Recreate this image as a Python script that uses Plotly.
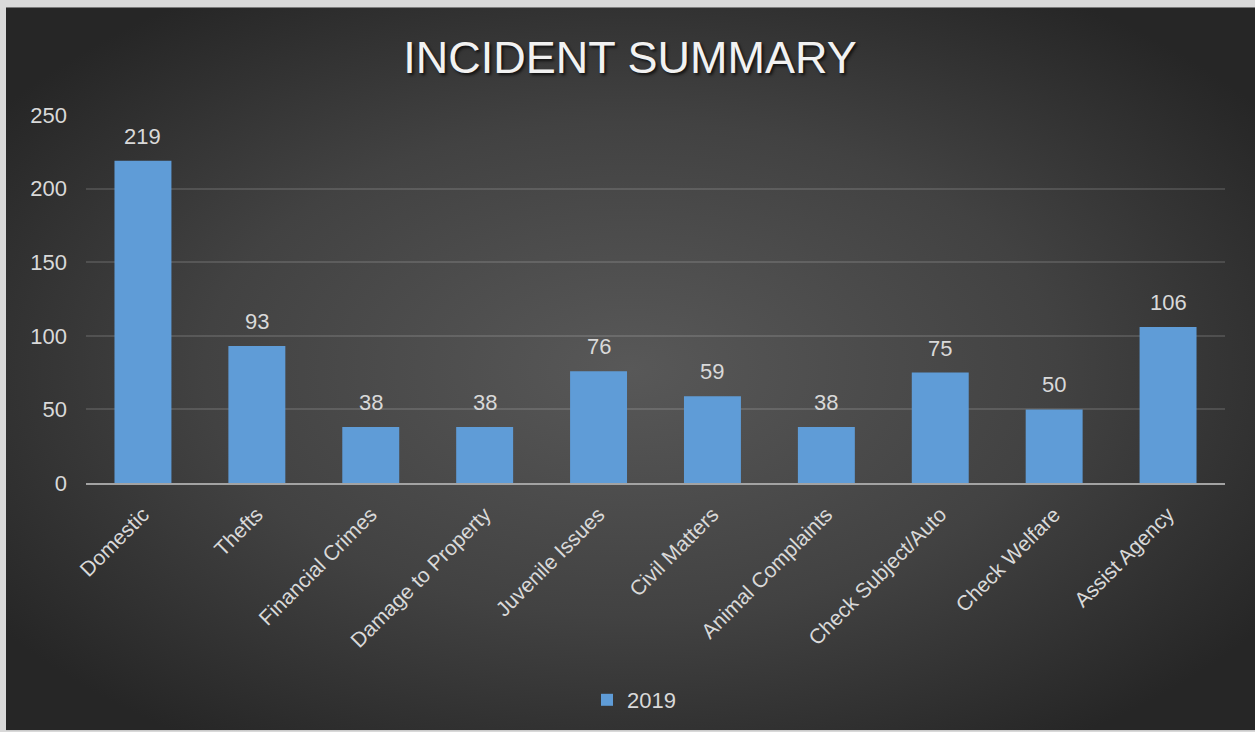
import base64
import plotly.graph_objects as go

# Incident counts for 2019
categories = [
    "Domestic", "Thefts", "Financial Crimes", "Damage to Property",
    "Juvenile Issues", "Civil Matters", "Animal Complaints",
    "Check Subject/Auto", "Check Welfare", "Assist Agency",
]
counts_2019 = [219, 93, 38, 38, 76, 59, 38, 75, 50, 106]
series_name = "2019"
y_ticks = [0, 50, 100, 150, 200, 250]

W, H = 1255, 732
L, R, T, B = 86, 30, 115, 248
plot_w = W - L - R
plot_h = H - T - B
FONT = "Liberation Sans, Arial, sans-serif"

# Dark radial backdrop for the chart card
svg = (
    '<svg xmlns="http://www.w3.org/2000/svg" width="1249" height="725" '
    'preserveAspectRatio="none" viewBox="0 0 1249 725">'
    '<defs><radialGradient id="g" cx="50%" cy="50%" r="62%">'
    '<stop offset="0" stop-color="#585858"/>'
    '<stop offset="0.55" stop-color="#424242"/>'
    '<stop offset="1" stop-color="#262626"/>'
    '</radialGradient></defs>'
    '<rect width="1249" height="725" fill="url(#g)"/></svg>'
)
bg_src = "data:image/svg+xml;base64," + base64.b64encode(svg.encode()).decode()

fig = go.Figure()
fig.add_trace(go.Bar(
    x=categories,
    y=counts_2019,
    name=series_name,
    marker=dict(color="#5f9cd7", line=dict(width=0)),
))

# Value labels sitting above each bar
for cat, val in zip(categories, counts_2019):
    fig.add_annotation(
        x=cat, y=val, text=str(val),
        xref="x", yref="y",
        yanchor="bottom", yshift=10,
        showarrow=False,
        font=dict(family=FONT, size=22, color="#d9d9d9"),
    )

fig.add_layout_image(
    source=bg_src,
    xref="paper", yref="paper",
    x=(6 - L) / plot_w, y=(H - B - 7) / plot_h,
    sizex=(W - 6) / plot_w, sizey=(H - 7) / plot_h,
    xanchor="left", yanchor="top",
    sizing="stretch", layer="below",
)

fig.update_layout(
    width=W, height=H,
    margin=dict(l=L, r=R, t=T, b=B, pad=0),
    paper_bgcolor="#d9d9d9",
    plot_bgcolor="rgba(0,0,0,0)",
    bargap=0.5,
    title=dict(
        text="INCIDENT SUMMARY",
        x=630 / W, xref="container", xanchor="center",
        y=1 - 57 / H, yref="container", yanchor="middle",
        font=dict(family=FONT, size=45, color="#f2f2f2",
                  shadow="2px 2px 3px rgba(0,0,0,0.7)"),
    ),
    showlegend=True,
    legend=dict(
        orientation="h",
        x=(634 - L) / plot_w, xanchor="center",
        y=(H - B - 700) / plot_h, yanchor="middle",
        font=dict(family=FONT, size=22, color="#d9d9d9"),
        bgcolor="rgba(0,0,0,0)",
        itemwidth=30,
    ),
    font=dict(family=FONT, color="#d9d9d9"),
    xaxis=dict(
        tickangle=-45,
        tickfont=dict(size=21, color="#d9d9d9"),
        showgrid=False,
        showline=True, linecolor="#a3a3a3", linewidth=2,
        ticks="",
        ticklabelstandoff=9,
    ),
    yaxis=dict(
        range=[0, 250],
        tickvals=y_ticks,
        tickfont=dict(size=22, color="#d9d9d9"),
        showgrid=True, gridcolor="rgba(255,255,255,0.13)", gridwidth=1.5,
        zeroline=False,
        showline=False,
        ticks="",
        ticklabelstandoff=18,
    ),
)

fig.write_html("out.html")
